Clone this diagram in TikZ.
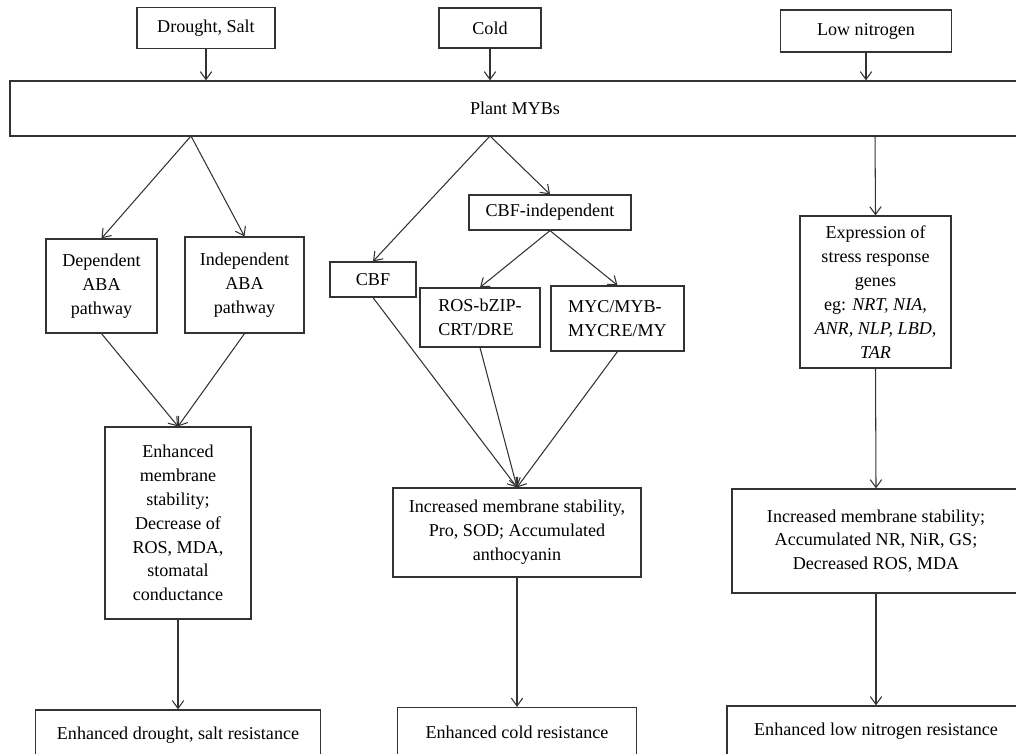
\documentclass[tikz,border=0pt]{standalone}
\usepackage{fontspec}
\setmainfont{Liberation Serif}
\usetikzlibrary{positioning, arrows.meta}
\tikzstyle{box} = [draw=black!80, line width=0.7pt, align=center, inner sep=2pt, font=\fontsize{10.3}{13.6}\selectfont]
\tikzstyle{arrow} = [line width=0.6pt, draw=black!80, -{Straight Barb[length=4.5pt,width=6.5pt]}]
\tikzstyle{link} = [line width=0.6pt, draw=black!80]

\begin{document}
\begin{tikzpicture}[x=0.02cm, y=-0.02cm, node distance=2cm, on grid]
\useasboundingbox (0,0) rectangle (1016,753);
% stresses
\node[box, minimum width=2.76cm, minimum height=0.82cm] (drought) at (206,28) {Drought, Salt};
\node[box, minimum width=2.04cm, minimum height=0.8cm] (cold) at (490,28) {Cold};
\node[box, minimum width=3.42cm, minimum height=0.84cm] (lown) at (866,31) {Low nitrogen};
\node[box, minimum width=20.2cm, minimum height=1.1cm] (myb) at (515,108.5) {Plant MYBs};
\coordinate (fdrought) at (191,136);
\coordinate (fcold) at (490,136);
\coordinate (flown) at (875,136);
% drought, salt branch
\node[box, minimum width=2.22cm, minimum height=1.88cm] (dep) at (101.5,286) {Dependent\\ABA\\pathway};
\node[box, minimum width=2.38cm, minimum height=1.92cm] (indep) at (244.5,285) {Independent\\ABA\\pathway};
\node[box, minimum width=2.92cm, minimum height=3.84cm] (enh) at (178,523) {Enhanced\\membrane\\stability;\\Decrease of\\ROS, MDA,\\stomatal\\conductance};
\node[box, minimum width=5.7cm, minimum height=1.0cm] (resdrought) [below=4.24cm of enh] {Enhanced drought, salt resistance};
% cold branch
\node[box, minimum width=1.72cm, minimum height=0.7cm] (cbf) at (373,279.5) {CBF};
\node[box, minimum width=3.24cm, minimum height=0.7cm] (cbfind) at (550,212.5) {CBF-independent};
\node[box, minimum width=2.4cm, minimum height=1.18cm, align=left] (ros) at (480,317.5) {ROS-bZIP-\\CRT/DRE};
\node[box, minimum width=2.66cm, minimum height=1.3cm, align=left] (myc) at (617.5,318.5) {MYC/MYB-\\MYCRE/MY};
\node[box, minimum width=4.96cm, minimum height=1.78cm] (inccold) at (517,532.5) {Increased membrane stability,\\Pro, SOD; Accumulated\\anthocyanin};
\node[box, minimum width=4.78cm, minimum height=1.0cm] (rescold) [below=4.0cm of inccold] {Enhanced cold resistance};
% low nitrogen branch
\node[box, minimum width=3.02cm, minimum height=3.04cm] (expr) at (875.5,292) {Expression of\\stress response\\genes\\eg: \textit{NRT, NIA,}\\\textit{ANR, NLP, LBD,}\\\textit{TAR}};
\node[box, minimum width=5.76cm, minimum height=2.08cm] (incn) at (876,541) {Increased membrane stability;\\Accumulated NR, NiR, GS;\\Decreased ROS, MDA};
\node[box, minimum width=5.96cm, minimum height=1.0cm] (resn) [below=3.8cm of incn] {Enhanced low nitrogen resistance};
% connectors
\draw[arrow] (drought.south) -- (drought.south |- myb.north);
\draw[arrow] (cold.south) -- (cold.south |- myb.north);
\draw[arrow] (lown.south) -- (lown.south |- myb.north);
\draw[arrow] (fdrought) -- (dep.north);
\draw[arrow] (fdrought) -- (indep.north);
\draw[arrow] (dep.south) -- (enh.north);
\draw[arrow] (indep.south) -- (enh.north);
\draw[arrow] (enh.south) -- (resdrought.north);
\draw[arrow] (fcold) -- (cbf.north);
\draw[arrow] (fcold) -- (cbfind.north);
\draw[arrow] (cbfind.south) -- (ros.north);
\draw[arrow] (cbfind.south) -- (myc.north);
\draw[arrow] (cbf.south) -- (inccold.north);
\draw[arrow] (ros.south) -- (inccold.north);
\draw[arrow] (myc.south) -- (inccold.north);
\draw[arrow] (inccold.south) -- (rescold.north);
\draw[arrow] (flown) -- (expr.north);
\draw[arrow] (expr.south) -- (incn.north);
\draw[arrow] (incn.south) -- (resn.north);
\end{tikzpicture}
\end{document}
